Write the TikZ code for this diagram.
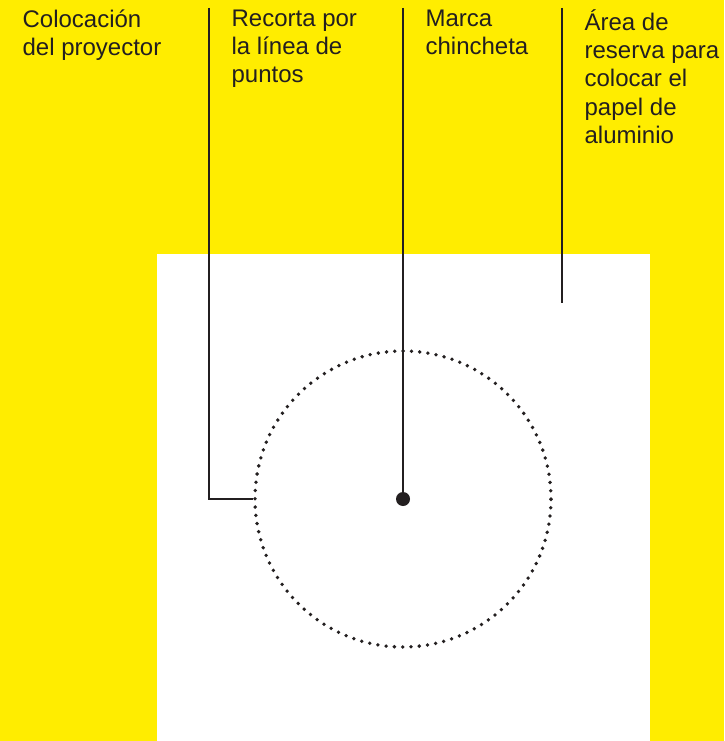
\documentclass[tikz,border=0pt]{standalone}
\usepackage{fontspec}
\setmainfont{Liberation Sans}
\definecolor{hoja}{RGB}{255,237,0}
\definecolor{tinta}{RGB}{35,31,32}

\begin{document}
\begin{tikzpicture}[x=1pt, y=-1pt, line width=1.2pt]
  \tikzset{
    etiqueta/.style={anchor=north west, align=left, inner sep=0pt, text=tinta,
      font=\fontsize{24}{28.2}\selectfont, execute at begin node={\rule{0pt}{18pt}}},
    guia/.style={draw=tinta},
  }
  \fill[hoja] (0,0) rectangle (724,741);
  \fill[white] (157,254) rectangle (650,741);
  \useasboundingbox (0,0) rectangle (724,741);

  % circle to cut out and the pin mark
  \node[circle, minimum size=296pt, inner sep=0pt, draw=tinta, line width=3.8pt,
    line cap=round, dash pattern=on 0pt off 8.3pt] (aro) at (403,499) {};
  \node[circle, fill=tinta, minimum size=14pt, inner sep=0pt] (chincheta) at (403,499) {};

  % labels
  \node[etiqueta] (proyector) at (22,9) {Colocación\\del proyector};
  \node[etiqueta] (recorta) at (231,9) {Recorta por\\la línea de\\puntos};
  \node[etiqueta] (marca) at (425,9) {Marca\\chincheta};
  \node[etiqueta] (reserva) at (584,9) {Área de\\reserva para\\colocar el\\papel de\\aluminio};

  % leader lines
  \coordinate (r0) at (209,8);
  \coordinate (m0) at (403,8);
  \coordinate (a0) at (562,8);
  \coordinate (a1) at (562,303);
  \draw[guia] (r0) |- (aro.west);
  \draw[guia] (m0) -- (chincheta.center);
  \draw[guia] (a0) -- (a1);
\end{tikzpicture}
\end{document}
